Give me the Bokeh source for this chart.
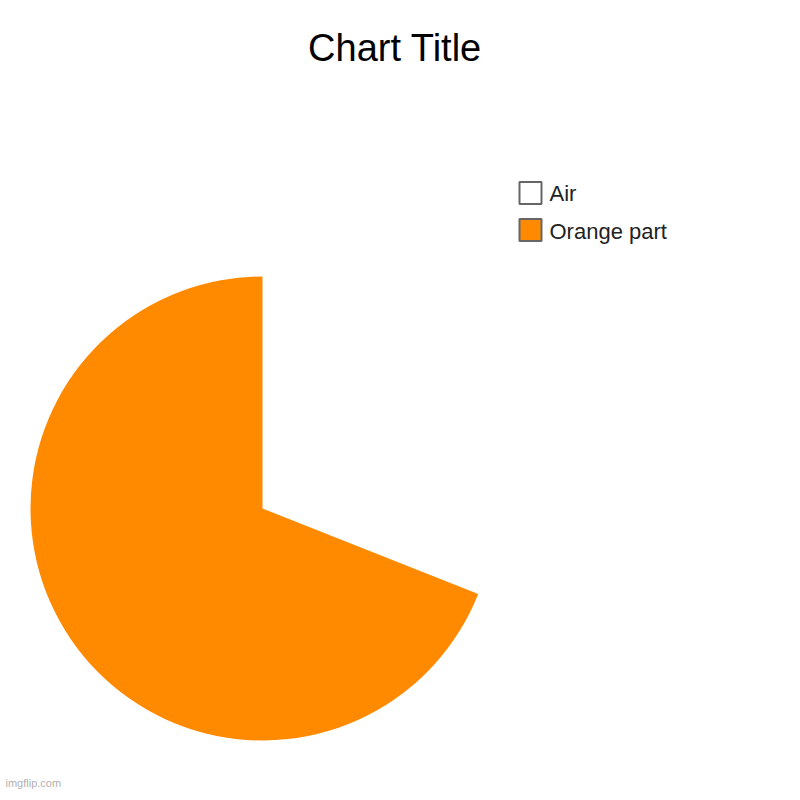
from math import pi
from bokeh.plotting import figure
from bokeh.models import Range1d, ColumnDataSource
from bokeh.core.properties import value
from bokeh.embed import file_html
from bokeh.resources import INLINE

# ---- data ----
categories = ["Air", "Orange part"]
values = [31, 69]
colors = ["#ffffff", "#ff8a00"]
title_text = "Chart Title"
watermark = "imgflip.com"

# ---- figure in screen-pixel units ----
W = H = 792
p = figure(width=W, height=H, output_backend="svg", toolbar_location=None,
           x_range=Range1d(0, W), y_range=Range1d(800 - H, 800),
           min_border=0)
p.axis.visible = False
p.grid.visible = False
p.outline_line_color = None
p.background_fill_color = "white"
p.border_fill_color = "white"

def Y(sy):
    return 800 - sy

# pie: starts at 12 o'clock, slices go clockwise in category order
total = float(sum(values))
cx, cy, r = 262, Y(508), 232
start = pi / 2
starts, ends = [], []
for v in values:
    sweep = 2 * pi * v / total
    end = start - sweep
    starts.append(end)   # anticlockwise drawing from end to start
    ends.append(start)
    start = end
src = ColumnDataSource(dict(cat=categories, val=values, color=colors,
                            start=starts, end=ends))
p.wedge(x=cx, y=cy, radius=r, start_angle="start", end_angle="end",
        direction="anticlock", fill_color="color", line_color=None, source=src)

# legend (Air on top)
leg_x = 530
lsrc = ColumnDataSource(dict(x=[leg_x] * len(categories), y=[Y(192.5), Y(229.5)],
                             color=colors, label=categories,
                             tx=[549] * len(categories),
                             ty=[Y(192.5), Y(230.5)]))
p.rect(x="x", y="y", width=22, height=22, fill_color="color",
       line_color="#666666", line_width=2, source=lsrc)
p.text(x="tx", y="ty", text="label", text_font=value("Liberation Sans"),
       text_font_size="22px", text_color="#222222", text_baseline="middle",
       text_align="left", source=lsrc)

# title
p.text(x=[394.5], y=[Y(47)], text=[title_text], text_font=value("Liberation Sans"),
       text_font_size="38px", text_color="#000000", text_align="center",
       text_baseline="middle")

# watermark
p.text(x=[5], y=[Y(782)], text=[watermark], text_font=value("Liberation Sans"),
       text_font_size="11px", text_color="#b0b0b0", text_align="left",
       text_baseline="middle")

open("out.html", "w").write(file_html(p, INLINE))
